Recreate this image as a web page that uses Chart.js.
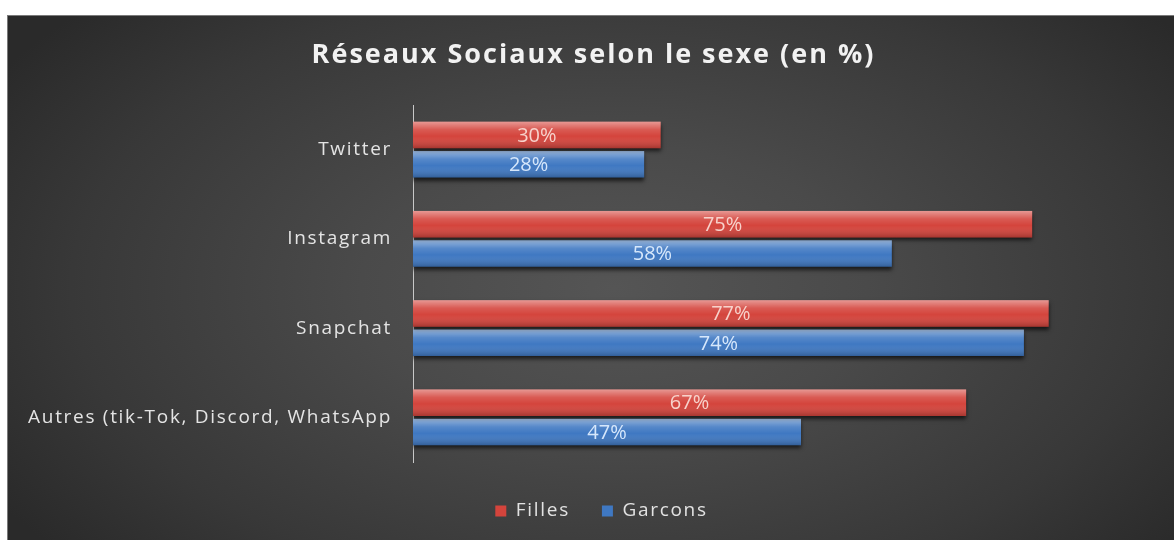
<!DOCTYPE html>
<html lang="fr">
<head>
<meta charset="utf-8">
<title>Réseaux Sociaux selon le sexe</title>
<script src="https://cdn.jsdelivr.net/npm/chart.js@4.4.1/dist/chart.umd.min.js"></script>
<style>
  html, body { margin: 0; padding: 0; background: #fff; }
  #panel {
    position: absolute; left: 7px; top: 15px; width: 1167px; height: 525px;
    background: radial-gradient(ellipse 62% 78% at 52% 52%, #555 0%, #4a4a4a 35%, #383838 75%, #2a2a2a 100%);
    box-shadow: inset 1px 1px 0 #7a7a7a;
  }
  #chart { display: block; }
</style>
</head>
<body>
<div id="panel"><canvas id="chart"></canvas></div>
<script>
// données (en %)
const categories = ['Twitter', 'Instagram', 'Snapchat', 'Autres (tik-Tok, Discord, WhatsApp'];
const filles = [30, 75, 77, 67];
const garcons = [28, 58, 74, 47];
const titleText = 'Réseaux Sociaux selon le sexe (en %)';

const FONT = 'Open Sans';
const SPACING = '1.7px'; // le texte d'origine est plus étiré

// espacement des lettres (axes, légende) : à poser avant mesure et avant dessin
const spacingPlugin = {
  id: 'spacing',
  beforeUpdate(chart) { chart.ctx.letterSpacing = SPACING; },
  afterLayout(chart) {
    // légende un peu décalée vers la droite comme dans l'original
    chart.legend.left += 20;
    chart.legend.right += 20;
  },
  beforeDraw(chart) { chart.ctx.letterSpacing = SPACING; },
  afterDraw(chart) {
    // titre redessiné à la main avec un espacement plus large
    const ctx = chart.ctx;
    const t = chart.titleBlock;
    ctx.save();
    ctx.letterSpacing = '2px';
    ctx.font = `bold 27px "${FONT}"`;
    ctx.fillStyle = '#f2f2f2';
    ctx.textAlign = 'center';
    ctx.textBaseline = 'middle';
    ctx.fillText(titleText, (t.left + t.right) / 2 + 12, t.top + 24 + 16);
    ctx.restore();
  }
};

// ombre sous les barres + reflet brillant + étiquettes au centre
const glossPlugin = {
  id: 'gloss',
  beforeDatasetsDraw(chart) {
    const ctx = chart.ctx;
    ctx.save();
    ctx.shadowColor = 'rgba(0,0,0,0.65)';
    ctx.shadowBlur = 4;
    ctx.shadowOffsetY = 3;
  },
  afterDatasetsDraw(chart) {
    const ctx = chart.ctx;
    ctx.restore();
    chart.data.datasets.forEach((ds, di) => {
      const meta = chart.getDatasetMeta(di);
      meta.data.forEach((bar, i) => {
        const top = bar.y - bar.height / 2;
        const left = Math.min(bar.base, bar.x);
        const w = Math.abs(bar.x - bar.base);
        const g = ctx.createLinearGradient(0, top, 0, top + bar.height);
        g.addColorStop(0, 'rgba(255,255,255,0.45)');
        g.addColorStop(0.3, 'rgba(255,255,255,0.12)');
        g.addColorStop(0.55, 'rgba(255,255,255,0)');
        g.addColorStop(1, 'rgba(0,0,0,0.22)');
        ctx.fillStyle = g;
        ctx.fillRect(left, top, w, bar.height);

        // étiquette de valeur
        ctx.save();
        ctx.letterSpacing = '0px';
        ctx.font = `20px "${FONT}"`;
        ctx.fillStyle = ds.labelColor;
        ctx.textAlign = 'center';
        ctx.textBaseline = 'middle';
        ctx.fillText(ds.data[i] + '%', left + w / 2, bar.y + 1);
        ctx.restore();
      });
    });
  }
};

new Chart(document.getElementById('chart'), {
  type: 'bar',
  data: {
    labels: categories,
    datasets: [
      { label: 'Filles', data: filles, backgroundColor: '#d4443c', labelColor: '#f7d2cb',
        categoryPercentage: 0.66, barPercentage: 0.9 },
      { label: 'Garcons', data: garcons, backgroundColor: '#3f78c2', labelColor: '#d6e7fb',
        categoryPercentage: 0.66, barPercentage: 0.9 }
    ]
  },
  options: {
    indexAxis: 'y',
    responsive: true,
    maintainAspectRatio: false,
    animation: false,
    layout: { padding: { left: 0, right: 18, top: 0, bottom: 9.5 } },
    scales: {
      x: { display: false, min: 0, max: 90 },
      y: {
        grid: { display: false, drawTicks: false },
        border: { color: '#c8c8c8', width: 1 },
        ticks: { color: '#e4e4e4', font: { family: FONT, size: 19 }, padding: 21 },
        afterFit(scale) { scale.width = 406; }
      }
    },
    plugins: {
      title: {
        display: true,
        text: titleText,
        color: 'rgba(0,0,0,0)', // place réservée, texte dessiné par spacingPlugin
        font: { family: FONT, size: 27, weight: 'bold' },
        padding: { top: 24, bottom: 33.6 }
      },
      legend: {
        position: 'bottom',
        title: { display: true, text: '', font: { size: 5 }, padding: { top: 1.5, bottom: 0 } },
        labels: {
          color: '#e2e2e2',
          font: { family: FONT, size: 19 },
          boxWidth: 11, boxHeight: 11,
          padding: 32
        }
      },
      tooltip: { enabled: false }
    }
  },
  plugins: [spacingPlugin, glossPlugin]
});
</script>
</body>
</html>
